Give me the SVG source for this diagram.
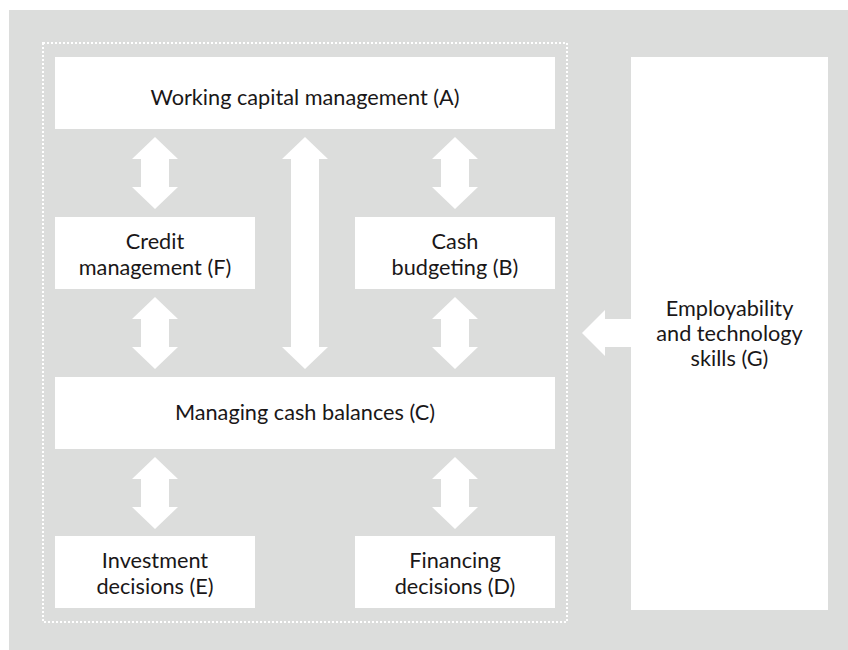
<svg xmlns="http://www.w3.org/2000/svg" width="848" height="650" viewBox="0 0 848 650">
<style>
.bg{fill:#dcdddc}
.box{fill:#ffffff}
.frame{fill:none;stroke:#ffffff;stroke-width:2;stroke-dasharray:2 2}
.arr{fill:#ffffff}
text{font-family:Lato,"Noto Sans","Liberation Sans",sans-serif;font-size:21.7px;fill:#1a1718;text-anchor:middle}
</style>
<defs>
<path id="dbl" d="M0,0 L23,22 L14,22 L14,50 L23,50 L0,72 L-23,50 L-14,50 L-14,22 L-23,22 Z"/>
</defs>
<rect class="bg" x="9" y="10" width="839" height="640"/>
<rect class="frame" x="43" y="43" width="524" height="579"/>
<g id="connectors">
<use class="arr" href="#dbl" x="155" y="137"/>
<use class="arr" href="#dbl" x="155" y="297"/>
<use class="arr" href="#dbl" x="155" y="457"/>
<use class="arr" href="#dbl" x="455" y="137"/>
<use class="arr" href="#dbl" x="455" y="297"/>
<use class="arr" href="#dbl" x="455" y="457"/>
<path class="arr" d="M305,137 L328,159 L319,159 L319,347 L328,347 L305,369 L282,347 L291,347 L291,159 L282,159 Z"/>
<path class="arr" d="M582,333 L605,310 L605,319 L631,319 L631,347 L605,347 L605,356 Z"/>
</g>
<g id="nodeA">
<rect class="box" x="55" y="57" width="500" height="72"/>
<text x="305" y="105">Working capital management (A)</text>
</g>
<g id="nodeF">
<rect class="box" x="55" y="217" width="200" height="72"/>
<text x="155" y="249">Credit</text>
<text x="155" y="275">management (F)</text>
</g>
<g id="nodeB">
<rect class="box" x="355" y="217" width="200" height="72"/>
<text x="455" y="249">Cash</text>
<text x="455" y="275">budgeting (B)</text>
</g>
<g id="nodeC">
<rect class="box" x="55" y="377" width="500" height="72"/>
<text x="305" y="420">Managing cash balances (C)</text>
</g>
<g id="nodeE">
<rect class="box" x="55" y="536" width="200" height="72"/>
<text x="155" y="568">Investment</text>
<text x="155" y="594">decisions (E)</text>
</g>
<g id="nodeD">
<rect class="box" x="355" y="536" width="200" height="72"/>
<text x="455" y="568">Financing</text>
<text x="455" y="594">decisions (D)</text>
</g>
<g id="nodeG">
<rect class="box" x="631" y="57" width="197" height="553"/>
<text x="729.5" y="316">Employability</text>
<text x="729.5" y="341">and technology</text>
<text x="729.5" y="366">skills (G)</text>
</g>
</svg>
